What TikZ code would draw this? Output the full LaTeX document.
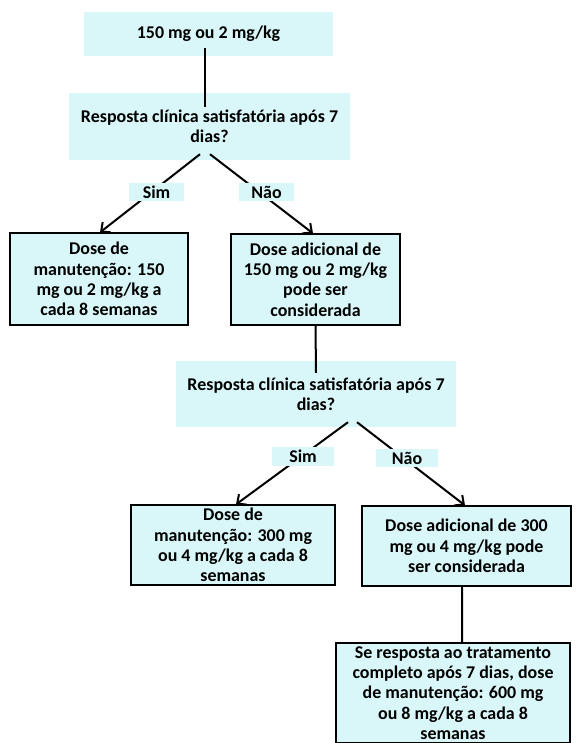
\documentclass[tikz,border=0pt]{standalone}
\usepackage{fontspec}
\setmainfont{Carlito}
\usetikzlibrary{arrows.meta}
\definecolor{boxfill}{RGB}{217,247,249}
\begin{document}
\begin{tikzpicture}[x=1bp,y=-1bp,
  every node/.style={font=\bfseries\fontsize{18}{20.5}\selectfont, align=center, inner sep=0pt},
  fillbox/.style={fill=boxfill},
  framebox/.style={fill=boxfill, draw=black, line width=1.2bp},
  conn/.style={line width=2bp},
  arr/.style={conn, -{Straight Barb[length=7bp,width=13bp]}}]
\useasboundingbox (0,0) rectangle (584,743);
\clip (0,0) rectangle (584,743);
\node[fillbox, minimum width=249bp, minimum height=44bp] (top) at (208.5,34) {150 mg ou 2 mg/kg};
\node[fillbox, minimum width=281bp, minimum height=67bp] (q1) at (209.5,126.5) {Resposta clínica satisfatória após 7\\dias?};
\node[framebox, minimum width=178bp, minimum height=92bp] (l1) at (99,279) {Dose de\\manutenção: 150\\mg ou 2 mg/kg a\\cada 8 semanas};
\node[framebox, minimum width=169bp, minimum height=91bp] (r1) at (315.5,279.5) {Dose adicional de\\150 mg ou 2 mg/kg\\pode ser\\considerada};
\node[fillbox, minimum width=280bp, minimum height=66bp] (q2) at (316,394) {Resposta clínica satisfatória após 7\\dias?};
\node[framebox, minimum width=204bp, minimum height=80bp] (l2) at (233,545) {Dose de\\manutenção: 300 mg\\ou 4 mg/kg a cada 8\\semanas};
\node[framebox, minimum width=209bp, minimum height=80bp] (r2) at (466.5,546) {Dose adicional de 300\\mg ou 4 mg/kg pode\\ser considerada};
\node[framebox, minimum width=234bp, minimum height=100bp, text depth=0pt] (b) at (453,693) {\fontsize{18}{19.5}\selectfont Se resposta ao tratamento\\completo após 7 dias, dose\\de manutenção: 600 mg\\ou 8 mg/kg a cada 8\\semanas};

\draw[conn] ([xshift=-3.5bp,yshift=8bp]top.south) -- ([xshift=-4.5bp,yshift=-14bp]q1.north);
\draw[arr] ([xshift=-9.5bp,yshift=6bp]q1.south) -- ([xshift=1bp]l1.north);
\draw[arr] ([xshift=0.5bp,yshift=6bp]q1.south) -- ([xshift=-2.5bp]r1.north);
\draw[conn] (r1.south) -- ([yshift=-12bp]q2.north);
\draw[arr] ([xshift=32bp,yshift=5bp]q2.south) -- ([xshift=3bp]l2.north);
\draw[arr] ([xshift=41bp,yshift=5bp]q2.south) -- ([xshift=-1.5bp]r2.north);
\draw[conn] ([xshift=-4.5bp]r2.south) -- ([xshift=9bp]b.north);

\node[fillbox, minimum width=55bp, minimum height=18bp] (sim1) at (156.5,192) {Sim};
\node[fillbox, minimum width=55bp, minimum height=18bp] (nao1) at (266.5,192) {Não};
\node[fillbox, minimum width=62bp, minimum height=19bp] (sim2) at (303,456.5) {Sim};
\node[fillbox, minimum width=62bp, minimum height=18bp] (nao2) at (407,458) {Não};
\end{tikzpicture}
\end{document}
